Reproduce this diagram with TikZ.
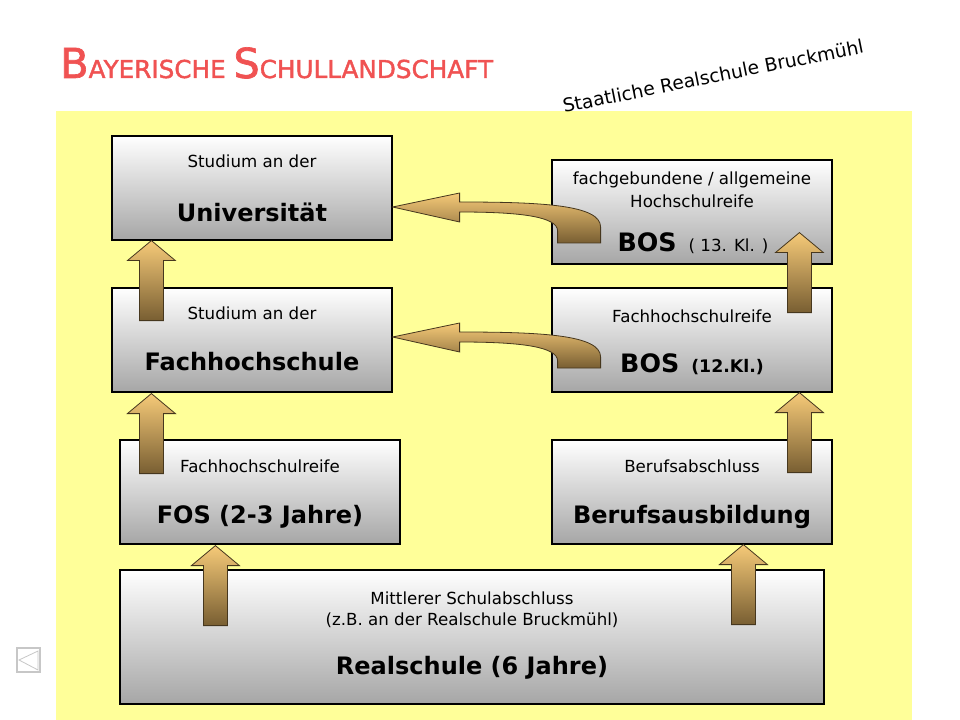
\documentclass[tikz,border=0pt]{standalone}
\usepackage{fontspec}
\setmainfont{DejaVu Sans}
\newfontfamily\titlefont[FakeBold=1.6]{DejaVu Sans}
\usetikzlibrary{calc}
\definecolor{bgyellow}{RGB}{255,255,153}
\definecolor{titlered}{RGB}{240,82,82}
\definecolor{arrlight}{RGB}{246,202,120}
\definecolor{arrdark}{RGB}{120,94,50}
\definecolor{boxgrey}{RGB}{166,166,166}
\definecolor{arredge}{RGB}{70,55,30}
\newcommand{\myuparrow}[1]{%
  \path[arrshape] (#1) -- ++(24,20) -- ++(-12,0) -- ++(0,60) -- ++(-24,0) -- ++(0,-60) -- ++(-12,0) -- cycle;}
\newcommand{\mycurvarrow}[2]{%
  \begin{scope}[shift={(#1)}]
    \path[arrshape] (0,0) -- (67,-14) -- (67,-5) .. controls (150,-5) and (208,-2) .. (208,20)
      -- (208,#2) -- (165,#2) -- (165,24) .. controls (165,10) and (130,5) .. (67,5) -- (67,15) -- cycle;
  \end{scope}}
\begin{document}
\begin{tikzpicture}[x=0.75pt,y=-0.75pt,
  box/.style={draw=black, line width=0.9pt, top color=white, bottom color=boxgrey,
    minimum width=210pt, minimum height=78pt, inner sep=0pt},
  arrshape/.style={draw=arredge, line width=0.6pt, top color=arrlight, bottom color=arrdark},
  smalltext/.style={font=\fontsize{12.5}{15}\selectfont, inner sep=0pt},
  bigtext/.style={font=\fontsize{18}{22}\selectfont\bfseries, inner sep=0pt}]
\useasboundingbox (0,0) rectangle (960,720);
\fill[white] (0,0) rectangle (960,720);
\fill[bgyellow] (56,111) rectangle (912,720);

% title
\node[anchor=base west, text=titlered, inner sep=0pt] (title) at (60,78)
  {\titlefont\fontsize{31}{31}\selectfont B\fontsize{18.5}{20}\selectfont AYERISCHE \fontsize{31}{31}\selectfont S\fontsize{18.5}{20}\selectfont CHULLANDSCHAFT};
\node[rotate=11.3, font=\fontsize{14}{16}\selectfont, inner sep=0pt] (school) at (713,76) {Staatliche Realschule Bruckmühl};

% nav icon
\draw[black!22, line width=0.8pt] (17,648) rectangle (40,672);
\draw[black!22, line width=0.6pt] (38,651) -- (19,660) -- (38,670) -- cycle;

% boxes
\node[box] (uni) at (252,188) {};
\node[box] (bos13) at (692,212) {};
\node[box] (fh) at (252,340) {};
\node[box] (bos12) at (692,340) {};
\node[box] (fos) at (260,492) {};
\node[box] (beruf) at (692,492) {};
\node[box, minimum width=528pt, minimum height=100.5pt] (real) at (472,637) {};

% texts
\node[smalltext] (t1) at (252,161) {Studium an der};
\node[bigtext] (t2) at (252,212) {Universität};
\node[smalltext] (t3) at (692,180) {fachgebundene / allgemeine};
\node[smalltext] (t4) at (692,201) {Hochschulreife};
\node[anchor=base, inner sep=0pt] (t5) at (693,252) {{\fontsize{19}{22}\selectfont\bfseries BOS}\hspace{9pt}{\fontsize{12.5}{15}\selectfont ( 13. Kl. )}};
\node[smalltext] (t6) at (252,313) {Studium an der};
\node[bigtext] (t7) at (252,362) {Fachhochschule};
\node[smalltext] (t8) at (692,316) {Fachhochschulreife};
\node[anchor=base, inner sep=0pt] (t9) at (692,372) {{\fontsize{19}{22}\selectfont\bfseries BOS}\hspace{9pt}{\fontsize{13}{15}\selectfont\bfseries (12.Kl.)}};
\node[smalltext] (t10) at (260,466) {Fachhochschulreife};
\node[bigtext] (t11) at (260,517) {FOS (2-3 Jahre)};
\node[smalltext] (t12) at (692,466) {Berufsabschluss};
\node[bigtext] (t13) at (692,517) {Berufsausbildung};
\node[smalltext] (t14) at (472,598) {Mittlerer Schulabschluss};
\node[smalltext] (t15) at (472,620) {(z.B. an der Realschule Bruckmühl)};
\node[bigtext] (t16) at (472,668) {Realschule (6 Jahre)};

% straight arrows
\coordinate (a1) at ($(uni.south west)+(40,0)$);
\coordinate (a2) at ($(fh.south west)+(40,1)$);
\coordinate (a3) at ($(fos.south west)+(96,1)$);
\coordinate (a4) at ($(beruf.south west)+(192,0)$);
\coordinate (a5) at ($(bos12.south west)+(248,0)$);
\coordinate (a6) at ($(bos13.south west)+(248,-32)$);
\myuparrow{a1}
\myuparrow{a2}
\myuparrow{a3}
\myuparrow{a4}
\myuparrow{a5}
\myuparrow{a6}

% curved arrows
\coordinate (c1) at ($(uni.east)+(0,19)$);
\coordinate (c2) at ($(fh.east)+(0,-3)$);
\mycurvarrow{c1}{36}
\mycurvarrow{c2}{31}
\end{tikzpicture}
\end{document}
